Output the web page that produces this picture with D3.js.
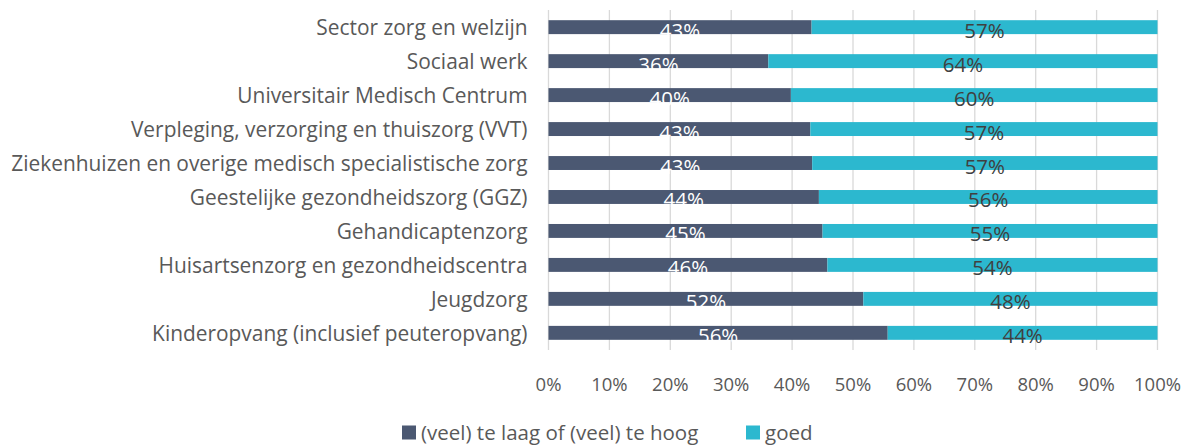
<!DOCTYPE html>
<html>
<head>
<meta charset="utf-8">
<script src="https://cdn.jsdelivr.net/npm/d3@7"></script>
<style>
  body { margin: 0; background: #fff; }
  svg { display: block; font-family: "Open Sans", sans-serif; }
</style>
</head>
<body>
<div id="container"></div>
<script>
// data
const categories = [
  "Sector zorg en welzijn",
  "Sociaal werk",
  "Universitair Medisch Centrum",
  "Verpleging, verzorging en thuiszorg (VVT)",
  "Ziekenhuizen en overige medisch specialistische zorg",
  "Geestelijke gezondheidszorg (GGZ)",
  "Gehandicaptenzorg",
  "Huisartsenzorg en gezondheidscentra",
  "Jeugdzorg",
  "Kinderopvang (inclusief peuteropvang)"
]
const slecht = [0.432, 0.361, 0.398, 0.430, 0.433, 0.444, 0.450, 0.458, 0.517, 0.557]
const goed = slecht.map(v => 1 - v)
const labelsSlecht = ["43%", "36%", "40%", "43%", "43%", "44%", "45%", "46%", "52%", "56%"]
const labelsGoed = ["57%", "64%", "60%", "57%", "57%", "56%", "55%", "54%", "48%", "44%"]
const seriesNames = ["(veel) te laag of (veel) te hoog", "goed"]
const colors = ["#4b5872", "#2cb8cf"]
const xTicks = [0, 0.1, 0.2, 0.3, 0.4, 0.5, 0.6, 0.7, 0.8, 0.9, 1]

const W = 1194, H = 446
const margin = { left: 548.5, right: 36.5, top: 10, bottom: 96 }
const width = W - margin.left - margin.right
const height = H - margin.top - margin.bottom

const svg = d3.select("#container").append("svg")
  .attr("width", W)
  .attr("height", H)

const g = svg.append("g")
  .attr("transform", `translate(${margin.left}, ${margin.top})`)

const x = d3.scaleLinear().domain([0, 1]).range([0, width])
const y = d3.scaleBand().domain(categories).range([0, height]).paddingInner(0.59).paddingOuter(0.3)

// gridlines
g.selectAll(".grid")
  .data(xTicks)
  .enter().append("line")
  .attr("class", "grid")
  .attr("x1", d => x(d)).attr("x2", d => x(d))
  .attr("y1", 0).attr("y2", height)
  .attr("stroke", "#d9d9d9")
  .attr("stroke-width", 1.3)

const rows = categories.map((c, i) => ({ cat: c, a: slecht[i], b: goed[i], la: labelsSlecht[i], lb: labelsGoed[i] }))

// dark segments
g.selectAll(".barA")
  .data(rows)
  .enter().append("rect")
  .attr("class", "barA")
  .attr("x", x(0))
  .attr("y", d => y(d.cat))
  .attr("width", d => x(d.a) - x(0))
  .attr("height", y.bandwidth())
  .attr("fill", colors[0])

// teal segments
g.selectAll(".barB")
  .data(rows)
  .enter().append("rect")
  .attr("class", "barB")
  .attr("x", d => x(d.a))
  .attr("y", d => y(d.cat))
  .attr("width", d => x(d.a + d.b) - x(d.a))
  .attr("height", y.bandwidth())
  .attr("fill", colors[1])

// data labels
g.selectAll(".lblA")
  .data(rows)
  .enter().append("text")
  .attr("class", "lblA")
  .attr("x", d => x(d.a / 2))
  .attr("y", d => y(d.cat) + y.bandwidth() / 2 + 2.5)
  .attr("text-anchor", "middle")
  .attr("dominant-baseline", "central")
  .style("font-size", "20.5px")
  .style("fill", "#ffffff")
  .text(d => d.la)

g.selectAll(".lblB")
  .data(rows)
  .enter().append("text")
  .attr("class", "lblB")
  .attr("x", d => x(d.a + d.b / 2))
  .attr("y", d => y(d.cat) + y.bandwidth() / 2 + 2.5)
  .attr("text-anchor", "middle")
  .attr("dominant-baseline", "central")
  .style("font-size", "20.5px")
  .style("fill", "#404040")
  .text(d => d.lb)

// category labels
g.selectAll(".cat")
  .data(categories)
  .enter().append("text")
  .attr("class", "cat")
  .attr("x", -21)
  .attr("y", d => y(d) + y.bandwidth() / 2)
  .attr("text-anchor", "end")
  .attr("dominant-baseline", "central")
  .style("font-size", "20.9px")
  .style("fill", "#595959")
  .text(d => d)

// x axis labels
g.selectAll(".xt")
  .data(xTicks)
  .enter().append("text")
  .attr("class", "xt")
  .attr("x", d => x(d))
  .attr("y", height + 33)
  .attr("text-anchor", "middle")
  .attr("dominant-baseline", "central")
  .style("font-size", "18.5px")
  .style("fill", "#595959")
  .text(d3.format(".0%"))

// legend
const legendX = [402, 746]
const legend = svg.selectAll(".legend")
  .data(seriesNames)
  .enter().append("g")
  .attr("class", "legend")
  .attr("transform", (d, i) => `translate(${legendX[i]}, 425.5)`)

legend.append("rect")
  .attr("width", 14).attr("height", 14)
  .attr("fill", (d, i) => colors[i])

legend.append("text")
  .attr("x", 19)
  .attr("y", 6.5)
  .attr("dominant-baseline", "central")
  .style("font-size", "20.5px")
  .style("fill", "#595959")
  .text(d => d)
</script>
</body>
</html>
